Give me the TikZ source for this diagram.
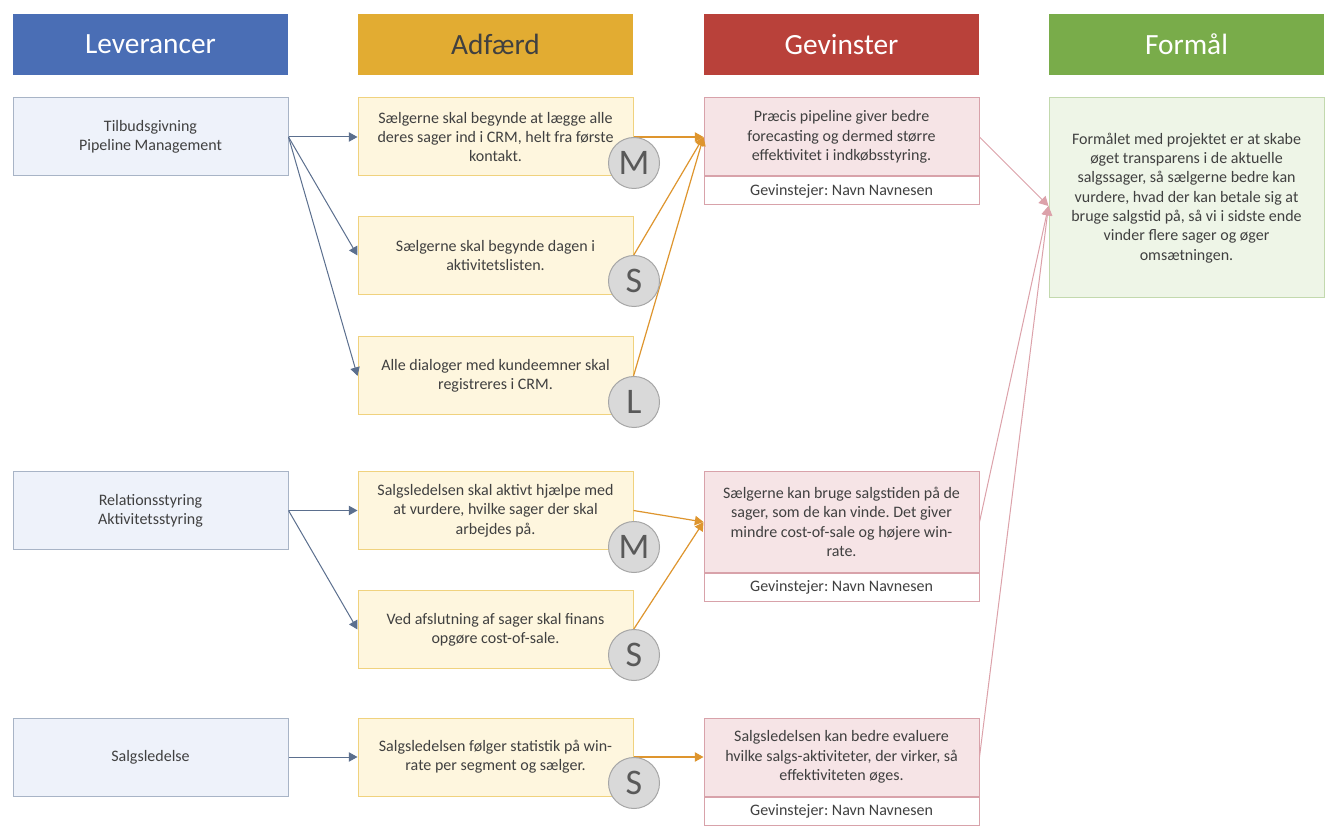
\documentclass[tikz,border=0pt]{standalone}
\usepackage{fontspec}
\setmainfont{Carlito}
\usetikzlibrary{arrows.meta}
\frenchspacing

\definecolor{levblue}{HTML}{4A6EB5}
\definecolor{adfgold}{HTML}{E2AC32}
\definecolor{gevred}{HTML}{B9413A}
\definecolor{forgreen}{HTML}{79AC4A}
\definecolor{levfill}{HTML}{EEF2FA}
\definecolor{levline}{HTML}{A8B4C6}
\definecolor{adffill}{HTML}{FEF6DE}
\definecolor{adfline}{HTML}{F0D27E}
\definecolor{gevfill}{HTML}{F6E4E6}
\definecolor{gevline}{HTML}{D8A2AA}
\definecolor{forfill}{HTML}{EEF5E7}
\definecolor{forline}{HTML}{C3D9AE}
\definecolor{txtgray}{HTML}{404040}
\definecolor{arrblue}{HTML}{5B6F8E}
\definecolor{arrorange}{HTML}{DE952E}
\definecolor{arrpink}{HTML}{DCA2AA}
\definecolor{ringfill}{HTML}{D9D9D9}
\definecolor{ringline}{HTML}{A6A6A6}
\definecolor{ringtext}{HTML}{595959}

\tikzset{
    header/.style={minimum width=206.25pt,minimum height=45.75pt,inner sep=0pt,
        text=white,font=\fontsize{22}{26}\selectfont},
    textbox/.style={minimum width=206.25pt,minimum height=58.5pt,inner sep=0pt,
        align=center,text=txtgray,font=\fontsize{12}{14.5}\selectfont,line width=0.75pt},
    levbox/.style={textbox,draw=levline,fill=levfill},
    adfbox/.style={textbox,draw=adfline,fill=adffill},
    gevbox/.style={textbox,draw=gevline,fill=gevfill},
    ownerbox/.style={textbox,draw=gevline,fill=white,minimum height=21pt,anchor=north},
    forbox/.style={textbox,draw=forline,fill=forfill,minimum height=150pt},
    ring/.style={circle,minimum size=38.25pt,inner sep=0pt,line width=0.75pt,
        draw=ringline,fill=ringfill,text=ringtext,font=\fontsize{27}{30}\selectfont},
    blueline/.style={arrblue,line width=0.75pt,-{Triangle[length=6.5pt,width=7pt]}},
    orangeline/.style={arrorange,line width=0.9pt,-{Triangle[length=6.5pt,width=7pt]}},
    pinkline/.style={arrpink,line width=0.75pt,-{Triangle[length=7pt,width=7.5pt]}}
}

\begin{document}
\begin{tikzpicture}[x=0.75pt,y=-0.75pt]
    \useasboundingbox[fill=white] (0,0) rectangle (1338,837);
    %% headers
    \node[header,fill=levblue] (hlev) at (150.5,44.5) {Leverancer};
    \node[header,fill=adfgold,text=txtgray] (hadf) at (495.5,44.5) {Adfærd};
    \node[header,fill=gevred] (hgev) at (841.5,44.5) {Gevinster};
    \node[header,fill=forgreen] (hfor) at (1186.5,44.5) {Formål};
    %% leverancer
    \node[levbox] (tilbud) at (150.5,137) {Tilbudsgivning\\Pipeline Management};
    \node[levbox] (relation) at (150.5,510.5) {Relationsstyring\\Aktivitetsstyring};
    \node[levbox] (salg) at (150.5,757) {Salgsledelse};
    %% adfaerd
    \node[adfbox] (adf1) at (495.5,137) {Sælgerne skal begynde at lægge alle\\deres sager ind i CRM, helt fra første\\kontakt.};
    \node[adfbox] (adf2) at (495.5,255.5) {Sælgerne skal begynde dagen i\\aktivitetslisten.};
    \node[adfbox] (adf3) at (495.5,376) {Alle dialoger med kundeemner skal\\registreres i CRM.};
    \node[adfbox] (adf4) at (495.5,510.5) {Salgsledelsen skal aktivt hjælpe med\\at vurdere, hvilke sager der skal\\arbejdes på.};
    \node[adfbox] (adf5) at (495.5,629.5) {Ved afslutning af sager skal finans\\opgøre cost-of-sale.};
    \node[adfbox] (adf6) at (495.5,757) {Salgsledelsen følger statistik på win-\\rate per segment og sælger.};
    %% gevinster
    \node[gevbox] (gev1) at (841.5,137) {Præcis pipeline giver bedre\\forecasting og dermed større\\effektivitet i indkøbsstyring.};
    \node[ownerbox] (own1) at (gev1.south) {Gevinstejer: Navn Navnesen};
    \node[gevbox,minimum height=75pt] (gev2) at (841.5,522) {Sælgerne kan bruge salgstiden på de\\sager, som de kan vinde. Det giver\\mindre cost-of-sale og højere win-\\rate.};
    \node[ownerbox] (own2) at (gev2.south) {Gevinstejer: Navn Navnesen};
    \node[gevbox] (gev3) at (841.5,757) {Salgsledelsen kan bedre evaluere\\hvilke salgs-aktiviteter, der virker, så\\effektiviteten øges.};
    \node[ownerbox] (own3) at (gev3.south) {Gevinstejer: Navn Navnesen};
    %% formaal
    \node[forbox] (formaal) at (1186.5,198) {Formålet med projektet er at skabe\\øget transparens i de aktuelle\\salgssager, så sælgerne bedre kan\\vurdere, hvad der kan betale sig at\\bruge salgstid på, så vi i sidste ende\\vinder flere sager og øger\\omsætningen.};
    %% blue arrows
    \draw[blueline] (tilbud.east) -- (adf1.west);
    \draw[blueline] (tilbud.east) -- (adf2.west);
    \draw[blueline] (tilbud.east) -- (adf3.west);
    \draw[blueline] (relation.east) -- (adf4.west);
    \draw[blueline] (relation.east) -- (adf5.west);
    \draw[blueline] (salg.east) -- (adf6.west);
    %% orange arrows
    \draw[orangeline] (adf1.east) -- (gev1.west);
    \draw[orangeline] (adf2.east) -- (gev1.west);
    \draw[orangeline] (adf3.east) -- (gev1.west);
    \draw[orangeline] (adf4.east) -- (gev2.west);
    \draw[orangeline] (adf5.east) -- (gev2.west);
    \draw[orangeline] (adf6.east) -- (gev3.west);
    %% pink arrows
    \draw[pinkline] (gev1.east) -- ([yshift=-6pt]formaal.west);
    \draw[pinkline] (gev2.east) -- ([yshift=-6pt]formaal.west);
    \draw[pinkline] (gev3.east) -- ([yshift=-6pt]formaal.west);
    %% M S L marks
    \node[ring] (m1) at (634,163) {M};
    \node[ring] (s1) at (634,281) {S};
    \node[ring] (l1) at (634,402) {L};
    \node[ring] (m2) at (634,547) {M};
    \node[ring] (s2) at (634,655) {S};
    \node[ring] (s3) at (634,783) {S};
\end{tikzpicture}
\end{document}
